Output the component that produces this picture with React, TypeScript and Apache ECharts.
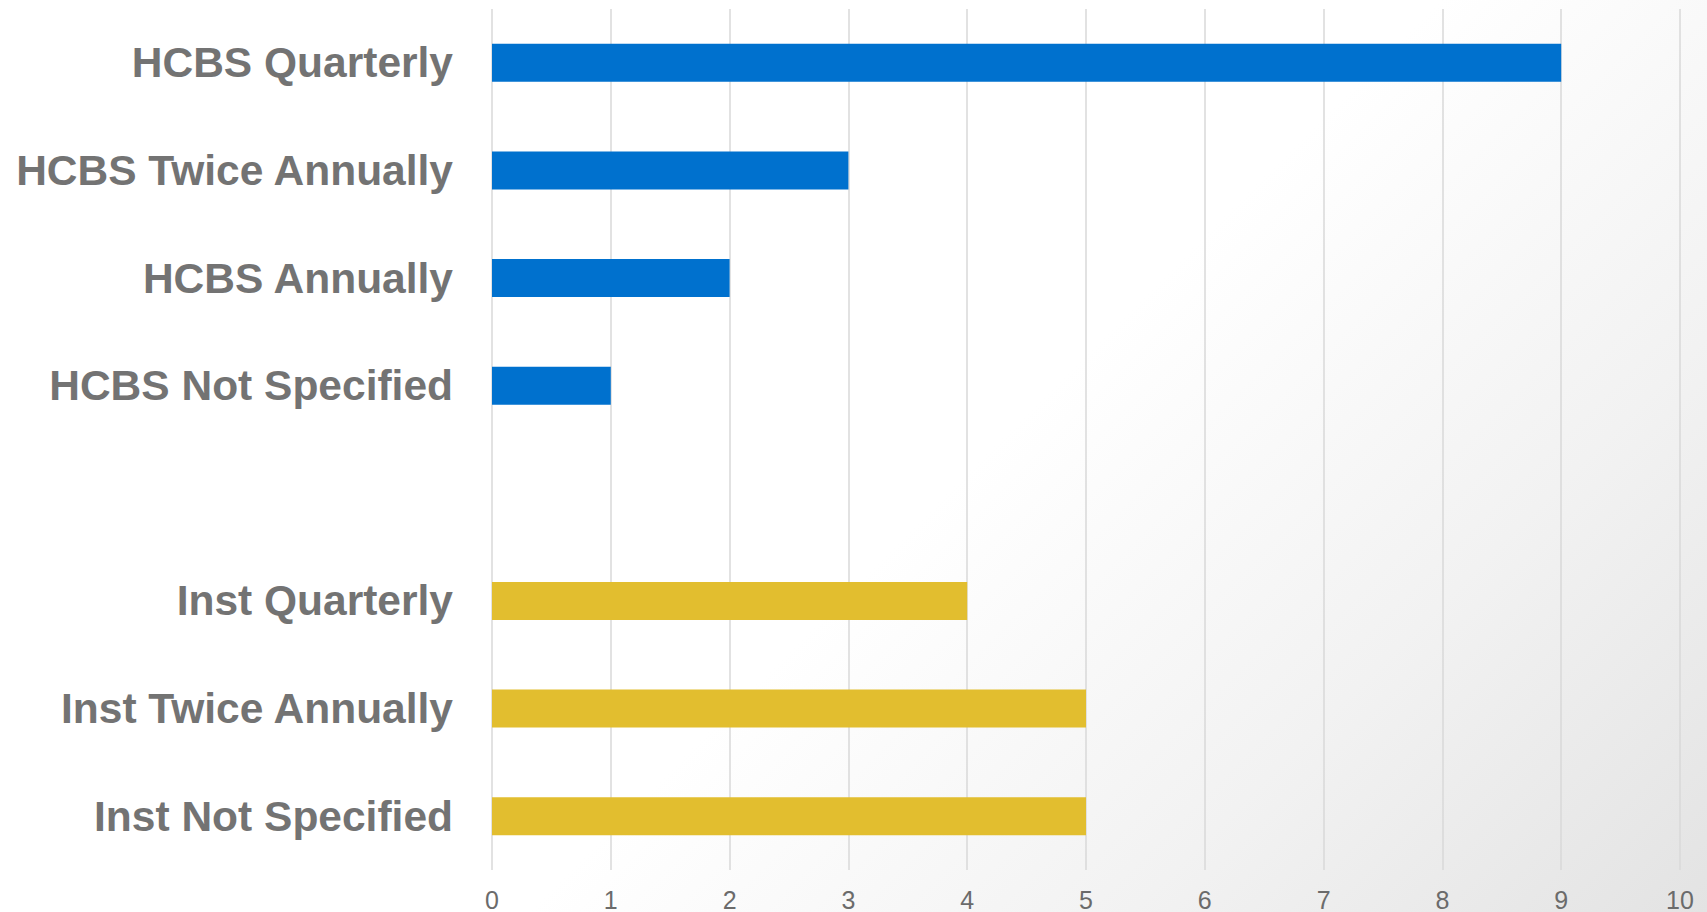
import React, { useEffect, useRef } from "react";
import * as echarts from "echarts";

const categories = [
  "HCBS Quarterly",
  "HCBS Twice Annually",
  "HCBS Annually",
  "HCBS Not Specified",
  "",
  "Inst Quarterly",
  "Inst Twice Annually",
  "Inst Not Specified",
];
const values: (number | null)[] = [9, 3, 2, 1, null, 4, 5, 5];
const groups = ["HCBS", "HCBS", "HCBS", "HCBS", "", "Inst", "Inst", "Inst"];
const groupColors: Record<string, string> = { HCBS: "#0071CE", Inst: "#E2BE2F", "": "#ffffff" };
const xTicks = [0, 10, 1];

const FONT = "'Liberation Sans', Arial, sans-serif";

export default function App() {
  const ref = useRef<HTMLDivElement>(null);
  useEffect(() => {
    if (!ref.current) return;
    const chart = echarts.init(ref.current, undefined, { renderer: "svg" });
    chart.setOption({
      animation: false,
      grid: { left: 492, right: 27, top: 9, bottom: 42, containLabel: false },
      xAxis: {
        type: "value",
        min: xTicks[0],
        max: xTicks[1],
        interval: xTicks[2],
        axisLine: { show: false },
        axisTick: { show: false },
        splitLine: { show: true, lineStyle: { color: "#d9d9d9", width: 1.5 } },
        axisLabel: {
          color: "#6b6b6b",
          fontSize: 25,
          fontFamily: FONT,
          margin: 17,
        },
      },
      yAxis: {
        type: "category",
        inverse: true,
        data: categories,
        axisLine: { show: false },
        axisTick: { show: false },
        splitLine: { show: false },
        axisLabel: {
          color: "#737373",
          fontSize: 42.5,
          fontWeight: "bold",
          fontFamily: FONT,
          margin: 39,
        },
      },
      series: [
        {
          type: "bar",
          barWidth: 38,
          data: values.map((v, i) => ({
            value: v,
            itemStyle: { color: groupColors[groups[i]] },
          })),
        },
      ],
    });
    return () => chart.dispose();
  }, []);
  return (
    <div
      ref={ref}
      style={{
        position: "fixed",
        left: 0,
        top: 0,
        width: 1707,
        height: 912,
        background:
          "linear-gradient(135deg, #ffffff 0%, #ffffff 55%, #f2f2f2 78%, #e3e3e3 100%)",
      }}
    />
  );
}
